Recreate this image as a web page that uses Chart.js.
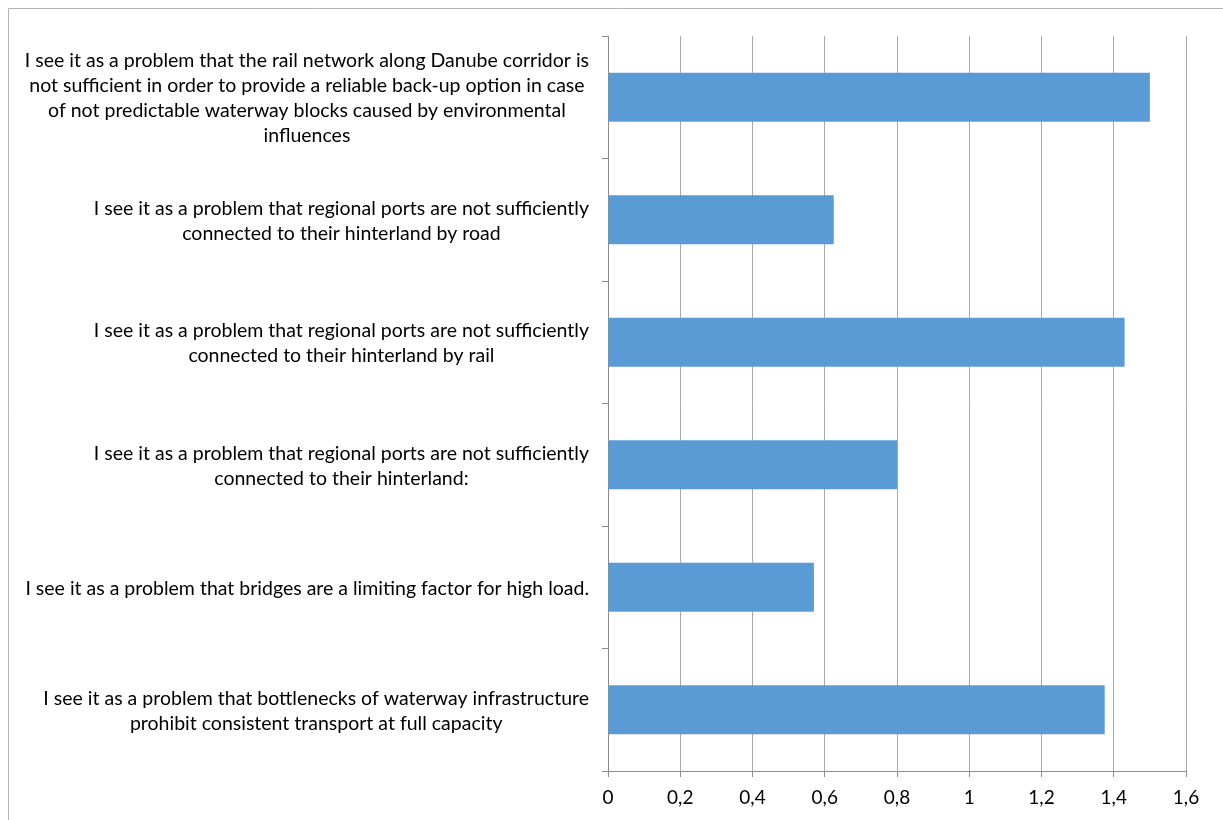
<!DOCTYPE html>
<html>
<head>
<meta charset="utf-8">
<script src="https://cdn.jsdelivr.net/npm/chart.js@4/dist/chart.umd.min.js"></script>
<style>
  html, body { margin: 0; padding: 0; background: #ffffff; }
  #wrap { width: 1223px; height: 820px; position: relative; }
</style>
</head>
<body>
<div id="wrap"><canvas id="c" width="1223" height="820"></canvas></div>
<script>
// ---- data ----
const categories = [
  ["I see it as a problem that the rail network along Danube corridor is",
   "not sufficient in order to provide a reliable back-up option in case",
   "of not predictable waterway blocks caused by environmental",
   "influences"],
  ["I see it as a problem that regional ports are not sufficiently",
   "connected to their hinterland by road"],
  ["I see it as a problem that regional ports are not sufficiently",
   "connected to their hinterland by rail"],
  ["I see it as a problem that regional ports are not sufficiently",
   "connected to their hinterland:"],
  ["I see it as a problem that bridges are a limiting factor for high load."],
  ["I see it as a problem that bottlenecks of waterway infrastructure",
   "prohibit consistent transport at full capacity"]
];
const values = [1.5, 0.625, 1.43, 0.8, 0.57, 1.375];
const xMin = 0;
const xMax = 1.6;
const xStep = 0.2;

const FONT = 'Lato, "Open Sans", sans-serif';
const LABEL_SIZE = 19.5;
const TICK_SIZE = 19;

const framePlugin = {
  id: 'frame',
  beforeDraw(chart) {
    const ctx = chart.ctx;
    ctx.save();
    ctx.fillStyle = '#ffffff';
    ctx.fillRect(0, 0, chart.width, chart.height);
    ctx.strokeStyle = '#b4b4b4';
    ctx.lineWidth = 1;
    ctx.beginPath();
    ctx.moveTo(8.5, chart.height + 5);
    ctx.lineTo(8.5, 8.5);
    ctx.lineTo(chart.width + 5, 8.5);
    ctx.stroke();
    ctx.restore();
  }
};

const labelPlugin = {
  id: 'catLabels',
  afterDraw(chart) {
    const ctx = chart.ctx;
    const ys = chart.scales.y;
    const right = chart.chartArea.left - 19;
    const lh = 25;
    ctx.save();
    ctx.font = LABEL_SIZE + 'px ' + FONT;
    ctx.fillStyle = '#000000';
    ctx.textAlign = 'center';
    ctx.textBaseline = 'middle';
    categories.forEach((lines, i) => {
      const cy = ys.getPixelForValue(i);
      let maxW = 0;
      lines.forEach(l => { maxW = Math.max(maxW, ctx.measureText(l).width); });
      const cx = right - maxW / 2;
      const n = lines.length;
      lines.forEach((l, j) => {
        ctx.fillText(l, cx, cy + (j - (n - 1) / 2) * lh + 1);
      });
    });
    ctx.restore();
  }
};

new Chart(document.getElementById('c'), {
  type: 'bar',
  data: {
    labels: categories,
    datasets: [{
      data: values,
      backgroundColor: '#5b9bd5',
      borderWidth: 0,
      barPercentage: 0.4,
      categoryPercentage: 1.0
    }]
  },
  options: {
    indexAxis: 'y',
    responsive: false,
    animation: false,
    devicePixelRatio: 1,
    layout: { padding: { top: 36, right: 37, bottom: 0, left: 0 } },
    plugins: { legend: { display: false }, tooltip: { enabled: false } },
    scales: {
      x: {
        min: xMin,
        max: xMax,
        afterFit(scale) { scale.height = 49; },
        ticks: {
          stepSize: xStep,
          color: '#000000',
          padding: 9,
          maxRotation: 0,
          font: { family: FONT, size: TICK_SIZE },
          callback: (v) => (Math.round(v * 10) / 10).toString().replace('.', ',')
        },
        grid: {
          color: '#a9a9a9',
          lineWidth: 1,
          drawTicks: true,
          tickLength: 6,
          tickColor: '#8c8c8c'
        },
        border: { display: true, color: '#8c8c8c', width: 1 }
      },
      y: {
        afterFit(scale) { scale.width = 608; },
        ticks: { display: false },
        grid: {
          drawOnChartArea: false,
          drawTicks: true,
          tickLength: 6,
          offset: true,
          color: '#8c8c8c',
          tickColor: '#8c8c8c'
        },
        border: { display: true, color: '#8c8c8c', width: 1 }
      }
    }
  },
  plugins: [framePlugin, labelPlugin]
});
</script>
</body>
</html>
